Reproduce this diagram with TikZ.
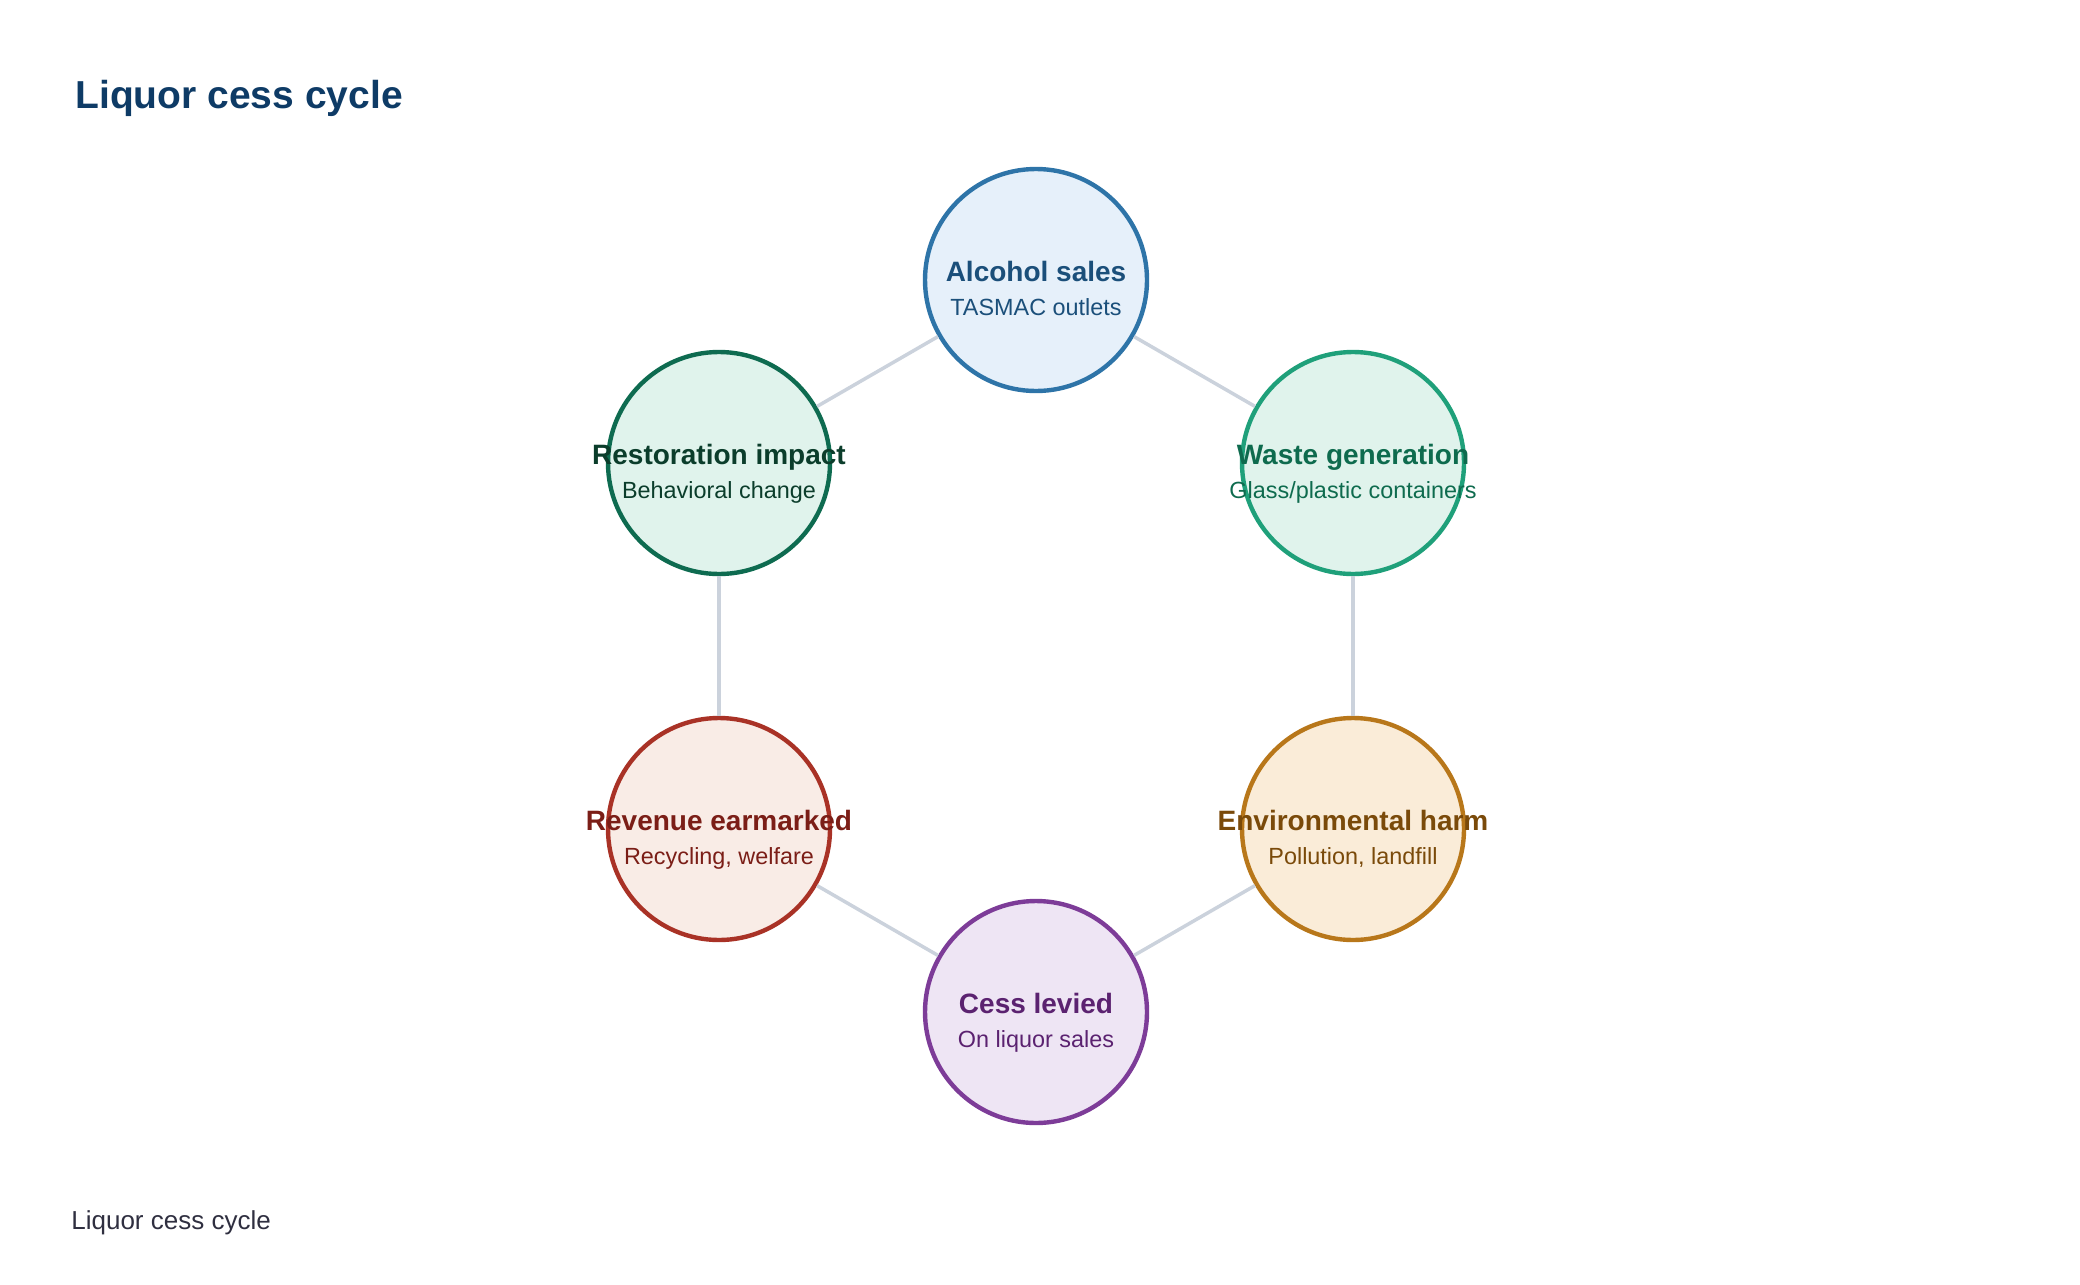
\documentclass[tikz,border=0pt]{standalone}
\usepackage{fontspec}
\setmainfont{Liberation Sans}
\usetikzlibrary{positioning}

\definecolor{titleblue}{HTML}{0E3B66}
\definecolor{footgray}{HTML}{2F2F40}
\definecolor{linkgray}{HTML}{CBD2DC}
\definecolor{salesline}{HTML}{2E74A8}
\definecolor{salesfill}{HTML}{E6F0FA}
\definecolor{salestext}{HTML}{1B4F7A}
\definecolor{wasteline}{HTML}{1FA07A}
\definecolor{wastefill}{HTML}{E0F3EC}
\definecolor{wastetext}{HTML}{0E6B4E}
\definecolor{harmline}{HTML}{B8771A}
\definecolor{harmfill}{HTML}{FAECD8}
\definecolor{harmtext}{HTML}{7A4A0A}
\definecolor{cessline}{HTML}{7D3C98}
\definecolor{cessfill}{HTML}{EEE5F4}
\definecolor{cesstext}{HTML}{5B2270}
\definecolor{revline}{HTML}{A93226}
\definecolor{revfill}{HTML}{F9ECE6}
\definecolor{revtext}{HTML}{7B1E17}
\definecolor{restline}{HTML}{0E6B50}
\definecolor{restfill}{HTML}{E0F3EC}
\definecolor{resttext}{HTML}{0B3D2B}

\begin{document}
\begin{tikzpicture}[x=0.5pt, y=-0.5pt,
    stage/.style n args={2}{circle, draw=#1, fill=#2, line width=2.2pt, minimum size=111pt, inner sep=0pt},
    head/.style={font=\fontsize{14}{16}\selectfont\bfseries, anchor=base, inner sep=0pt},
    sub/.style={font=\fontsize{11.7}{14}\selectfont, anchor=base, inner sep=0pt},
    link/.style={draw=linkgray, line width=1.75pt}]
            \useasboundingbox (0,0) rectangle (2080,1284);

            \node[font=\fontsize{19.5}{22}\selectfont\bfseries, text=titleblue, anchor=base west, inner sep=0pt] (title) at (75,109) {Liquor cess cycle};
            \node[font=\fontsize{13}{15}\selectfont, text=footgray, anchor=base west, inner sep=0pt] (footer) at (71,1229) {Liquor cess cycle};

            \node[stage={salesline}{salesfill}] (sales) at (1036,280) {};
            \node[stage={wasteline}{wastefill}] (waste) at (1353,463) {};
            \node[stage={harmline}{harmfill}] (harm) at (1353,829) {};
            \node[stage={cessline}{cessfill}] (cess) at (1036,1012) {};
            \node[stage={revline}{revfill}] (revenue) at (719,829) {};
            \node[stage={restline}{restfill}] (restore) at (719,463) {};

            \draw[link] (sales) -- (waste);
            \draw[link] (waste) -- (harm);
            \draw[link] (harm) -- (cess);
            \draw[link] (cess) -- (revenue);
            \draw[link] (revenue) -- (restore);
            \draw[link] (restore) -- (sales);

            \node[head, text=salestext] (salesh) at ([yshift=-0.5pt]sales.center) {Alcohol sales};
            \node[sub, text=salestext] (saless) at ([yshift=-17.5pt]sales.center) {TASMAC outlets};
            \node[head, text=wastetext] (wasteh) at ([yshift=-0.5pt]waste.center) {Waste generation};
            \node[sub, text=wastetext] (wastes) at ([yshift=-17.5pt]waste.center) {Glass/plastic containers};
            \node[head, text=harmtext] (harmh) at ([yshift=-0.5pt]harm.center) {Environmental harm};
            \node[sub, text=harmtext] (harms) at ([yshift=-17.5pt]harm.center) {Pollution, landfill};
            \node[head, text=cesstext] (cessh) at ([yshift=-0.5pt]cess.center) {Cess levied};
            \node[sub, text=cesstext] (cesss) at ([yshift=-17.5pt]cess.center) {On liquor sales};
            \node[head, text=revtext] (revenueh) at ([yshift=-0.5pt]revenue.center) {Revenue earmarked};
            \node[sub, text=revtext] (revenues) at ([yshift=-17.5pt]revenue.center) {Recycling, welfare};
            \node[head, text=resttext] (restoreh) at ([yshift=-0.5pt]restore.center) {Restoration impact};
            \node[sub, text=resttext] (restores) at ([yshift=-17.5pt]restore.center) {Behavioral change};
        \end{tikzpicture}
\end{document}
